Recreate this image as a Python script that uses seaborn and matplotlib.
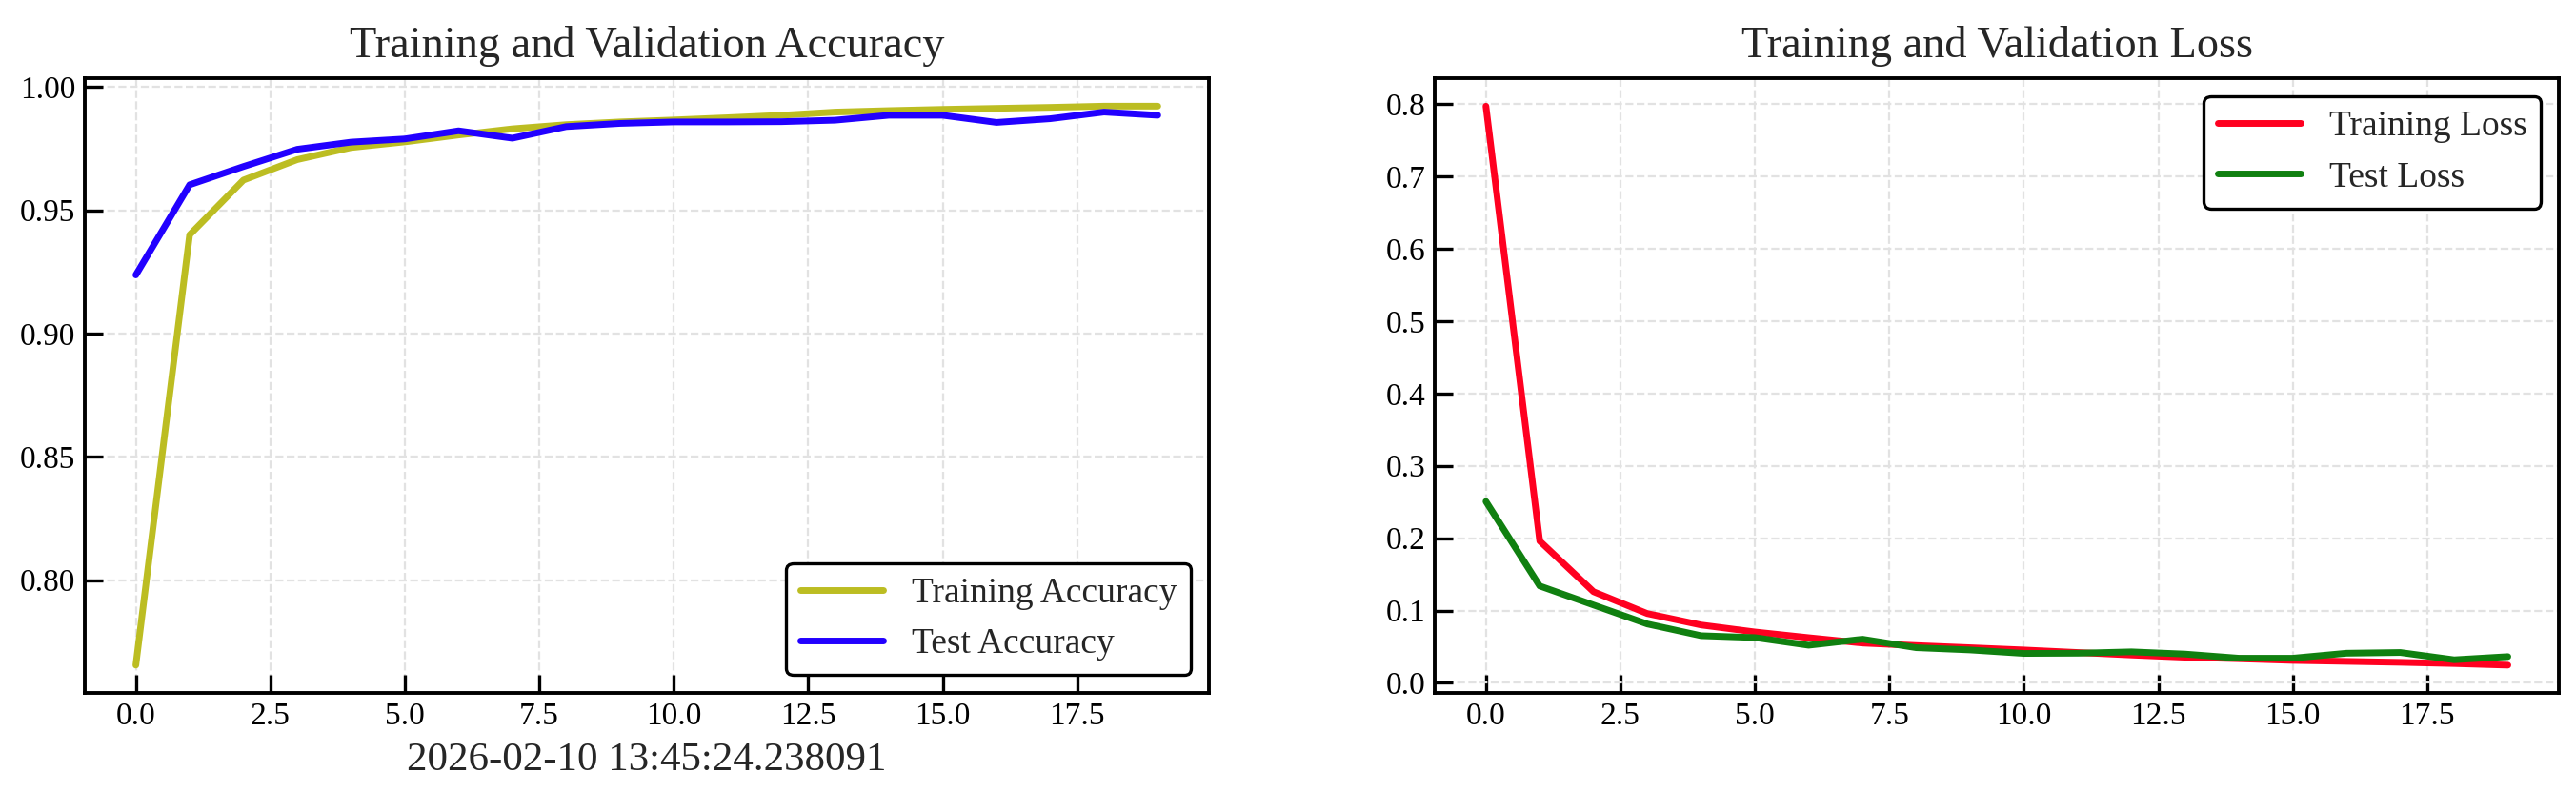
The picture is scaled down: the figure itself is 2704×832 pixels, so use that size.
import numpy as np
import pandas as pd
import matplotlib
matplotlib.use('Agg')
import matplotlib.pyplot as plt
import seaborn as sns

# Values (20 epochs)
epochs = list(range(20))
train_acc = [0.7655, 0.9401, 0.9623, 0.9706, 0.9755, 0.9778, 0.9806, 0.9831, 0.9848, 0.9859,
             0.9867, 0.9876, 0.9886, 0.9899, 0.9905, 0.9910, 0.9914, 0.9918, 0.9923, 0.9923]
test_acc = [0.9238, 0.9604, 0.9678, 0.9748, 0.9777, 0.9790, 0.9823, 0.9793, 0.9840, 0.9853,
            0.9859, 0.9859, 0.9860, 0.9866, 0.9886, 0.9886, 0.9857, 0.9872, 0.9899, 0.9886]
train_loss = [0.797, 0.196, 0.126, 0.0958, 0.080, 0.0704, 0.0625, 0.055, 0.0516, 0.0486,
              0.0455, 0.042, 0.0385, 0.0354, 0.0333, 0.031, 0.0297, 0.0284, 0.0267, 0.0245]
test_loss = [0.2507, 0.1339, 0.1076, 0.0814, 0.0652, 0.0626, 0.052, 0.0604, 0.0486, 0.0455,
             0.0407, 0.041, 0.0429, 0.0398, 0.0341, 0.0341, 0.041, 0.042, 0.0319, 0.0363]
timestamp = '2026-02-10 13:45:24.238091'

sns.set_theme(style='white')
plt.rcParams['font.family'] = ['Liberation Serif', 'DejaVu Serif']
plt.rcParams['axes.linewidth'] = 1.4
plt.rcParams['axes.edgecolor'] = 'black'
plt.rcParams['xtick.direction'] = 'in'
plt.rcParams['ytick.direction'] = 'in'
plt.rcParams['xtick.major.size'] = 7
plt.rcParams['ytick.major.size'] = 7
plt.rcParams['xtick.major.width'] = 1.2
plt.rcParams['ytick.major.width'] = 1.2
plt.rcParams['xtick.bottom'] = True
plt.rcParams['ytick.left'] = True
plt.rcParams['xtick.color'] = 'black'
plt.rcParams['ytick.color'] = 'black'

df = pd.DataFrame({'epoch': epochs, 'train_acc': train_acc, 'test_acc': test_acc,
                   'train_loss': train_loss, 'test_loss': test_loss})

fig = plt.figure(figsize=(13.52, 4.16), dpi=200)
ax1 = fig.add_axes([0.0329, 0.126, 0.4364, 0.7754])
ax2 = fig.add_axes([0.557, 0.126, 0.4364, 0.7754])

sns.lineplot(data=df, x='epoch', y='train_acc', ax=ax1, color='#bcbd22', linewidth=2.5, label='Training Accuracy')
sns.lineplot(data=df, x='epoch', y='test_acc', ax=ax1, color='#2200ff', linewidth=2.5, label='Test Accuracy')
sns.lineplot(data=df, x='epoch', y='train_loss', ax=ax2, color='#ff0020', linewidth=2.5, label='Training Loss')
sns.lineplot(data=df, x='epoch', y='test_loss', ax=ax2, color='#108010', linewidth=2.5, label='Test Loss')

ax1.set_title('Training and Validation Accuracy', fontsize=16.7, pad=8)
ax2.set_title('Training and Validation Loss', fontsize=16.7, pad=8)
ax1.set_xlabel(timestamp, fontsize=15.5)
ax2.set_xlabel('')
ax1.set_ylabel('')
ax2.set_ylabel('')

for ax, loc in [(ax1, 'lower right'), (ax2, 'upper right')]:
    ax.grid(True, linestyle='--', linewidth=0.8, color='#e2e2e2')
    ax.tick_params(labelsize=12, top=False, right=False)
    leg = ax.legend(loc=loc, fontsize=13.5, frameon=True, fancybox=True, framealpha=1,
                    edgecolor='black', handlelength=2.3, labelspacing=0.5)
    leg.get_frame().set_linewidth(1.2)
    for s in ax.spines.values():
        s.set_color('black')

fig.savefig('out.png', dpi=200)
